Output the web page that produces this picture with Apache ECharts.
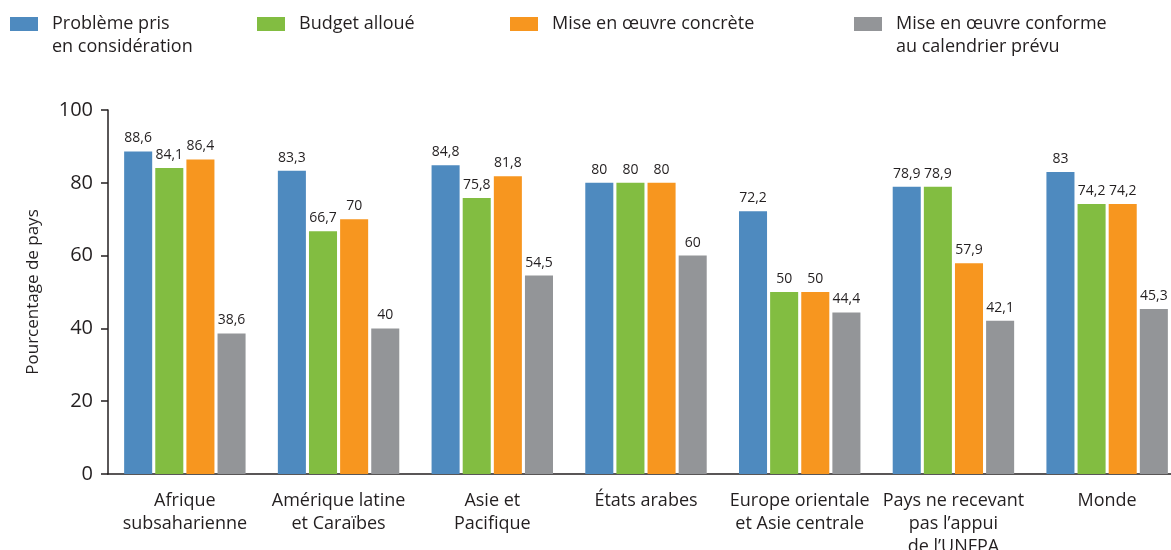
<!DOCTYPE html>
<html>
<head>
<meta charset="utf-8">
<script src="https://cdn.jsdelivr.net/npm/echarts@6/dist/echarts.min.js"></script>
<style>
  html, body { margin: 0; padding: 0; background: #fff; }
  #chart { width: 1171px; height: 550px; }
</style>
</head>
<body>
<div id="chart"></div>
<script>
// Regions (category axis)
const regions = [
  'Afrique\nsubsaharienne',
  'Amérique latine\net Caraïbes',
  'Asie et\nPacifique',
  'États arabes',
  'Europe orientale\net Asie centrale',
  'Pays ne recevant\npas l’appui\nde l’UNFPA',
  'Monde'
];

// Series names
const seriesNames = [
  'Problème pris\nen considération',
  'Budget alloué',
  'Mise en œuvre concrète',
  'Mise en œuvre conforme\nau calendrier prévu'
];

// Percentage of countries, per region
const priseEnConsideration = [88.6, 83.3, 84.8, 80, 72.2, 78.9, 83];
const budgetAlloue         = [84.1, 66.7, 75.8, 80, 50, 78.9, 74.2];
const miseEnOeuvre         = [86.4, 70, 81.8, 80, 50, 57.9, 74.2];
const miseEnOeuvreDelais   = [38.6, 40, 54.5, 60, 44.4, 42.1, 45.3];

// Y axis ticks
const yTicks = [0, 20, 40, 60, 80, 100];

const colors = ['#4e8abf', '#82bd41', '#f7961f', '#939598'];
const FONT = '"Open Sans", "Noto Sans", sans-serif';

const valuesBySeries = [priseEnConsideration, budgetAlloue, miseEnOeuvre, miseEnOeuvreDelais];

const fmt = v => String(v).replace('.', ',');

// Legend layout: each entry placed on its own, icon centred on the first text line
const legendLeft = [10, 257, 510, 854];
const LEGEND_LH = 23;
const LEGEND_ICON_CY = 24;

const chart = echarts.init(document.getElementById('chart'), null, { renderer: 'canvas' });

chart.setOption({
  animation: false,
  textStyle: { fontFamily: FONT },
  color: colors,
  legend: seriesNames.map((name, i) => {
    const twoLines = name.indexOf('\n') >= 0;
    // a blank leading line keeps the icon level with the first text line
    const boxH = twoLines ? 3 * LEGEND_LH : LEGEND_LH;
    return {
      data: [name],
      left: legendLeft[i],
      top: LEGEND_ICON_CY - boxH / 2,
      padding: 0,
      itemWidth: 28,
      itemHeight: 14,
      itemGap: 0,
      icon: 'rect',
      selectedMode: false,
      formatter: n => (twoLines ? ' \n' + n : n),
      textStyle: {
        fontFamily: FONT,
        fontSize: 18,
        color: '#231f20',
        lineHeight: LEGEND_LH,
        padding: [0, 0, 0, 9]
      }
    };
  }),
  grid: {
    left: 108,
    top: 110,
    width: 1076,
    bottom: 76,
    containLabel: false,
    outerBoundsMode: 'none'
  },
  xAxis: {
    type: 'category',
    data: regions,
    axisLine: { show: true, lineStyle: { color: '#231f20', width: 1.5 } },
    axisTick: { show: false },
    axisLabel: {
      fontFamily: FONT,
      fontSize: 18,
      color: '#231f20',
      lineHeight: 23,
      margin: 15,
      interval: 0
    }
  },
  yAxis: {
    type: 'value',
    min: yTicks[0],
    max: yTicks[yTicks.length - 1],
    interval: 20,
    name: 'Pourcentage de pays',
    nameLocation: 'middle',
    nameGap: 66,
    nameRotate: 90,
    nameTextStyle: { fontFamily: FONT, fontSize: 17, color: '#231f20' },
    axisLine: { show: true, lineStyle: { color: '#231f20', width: 1.5 } },
    axisTick: { show: true, inside: false, length: 7, lineStyle: { color: '#231f20', width: 1.5 } },
    axisLabel: { fontFamily: FONT, fontSize: 20, color: '#231f20', margin: 15 },
    splitLine: { show: false }
  },
  series: seriesNames.map((name, i) => ({
    name,
    type: 'bar',
    data: valuesBySeries[i],
    barCategoryGap: '21%',
    barGap: '11%',
    itemStyle: { color: colors[i] },
    label: {
      show: true,
      position: 'top',
      distance: 6,
      fontFamily: FONT,
      fontSize: 14,
      color: '#231f20',
      formatter: p => fmt(p.value)
    }
  }))
});
</script>
</body>
</html>
